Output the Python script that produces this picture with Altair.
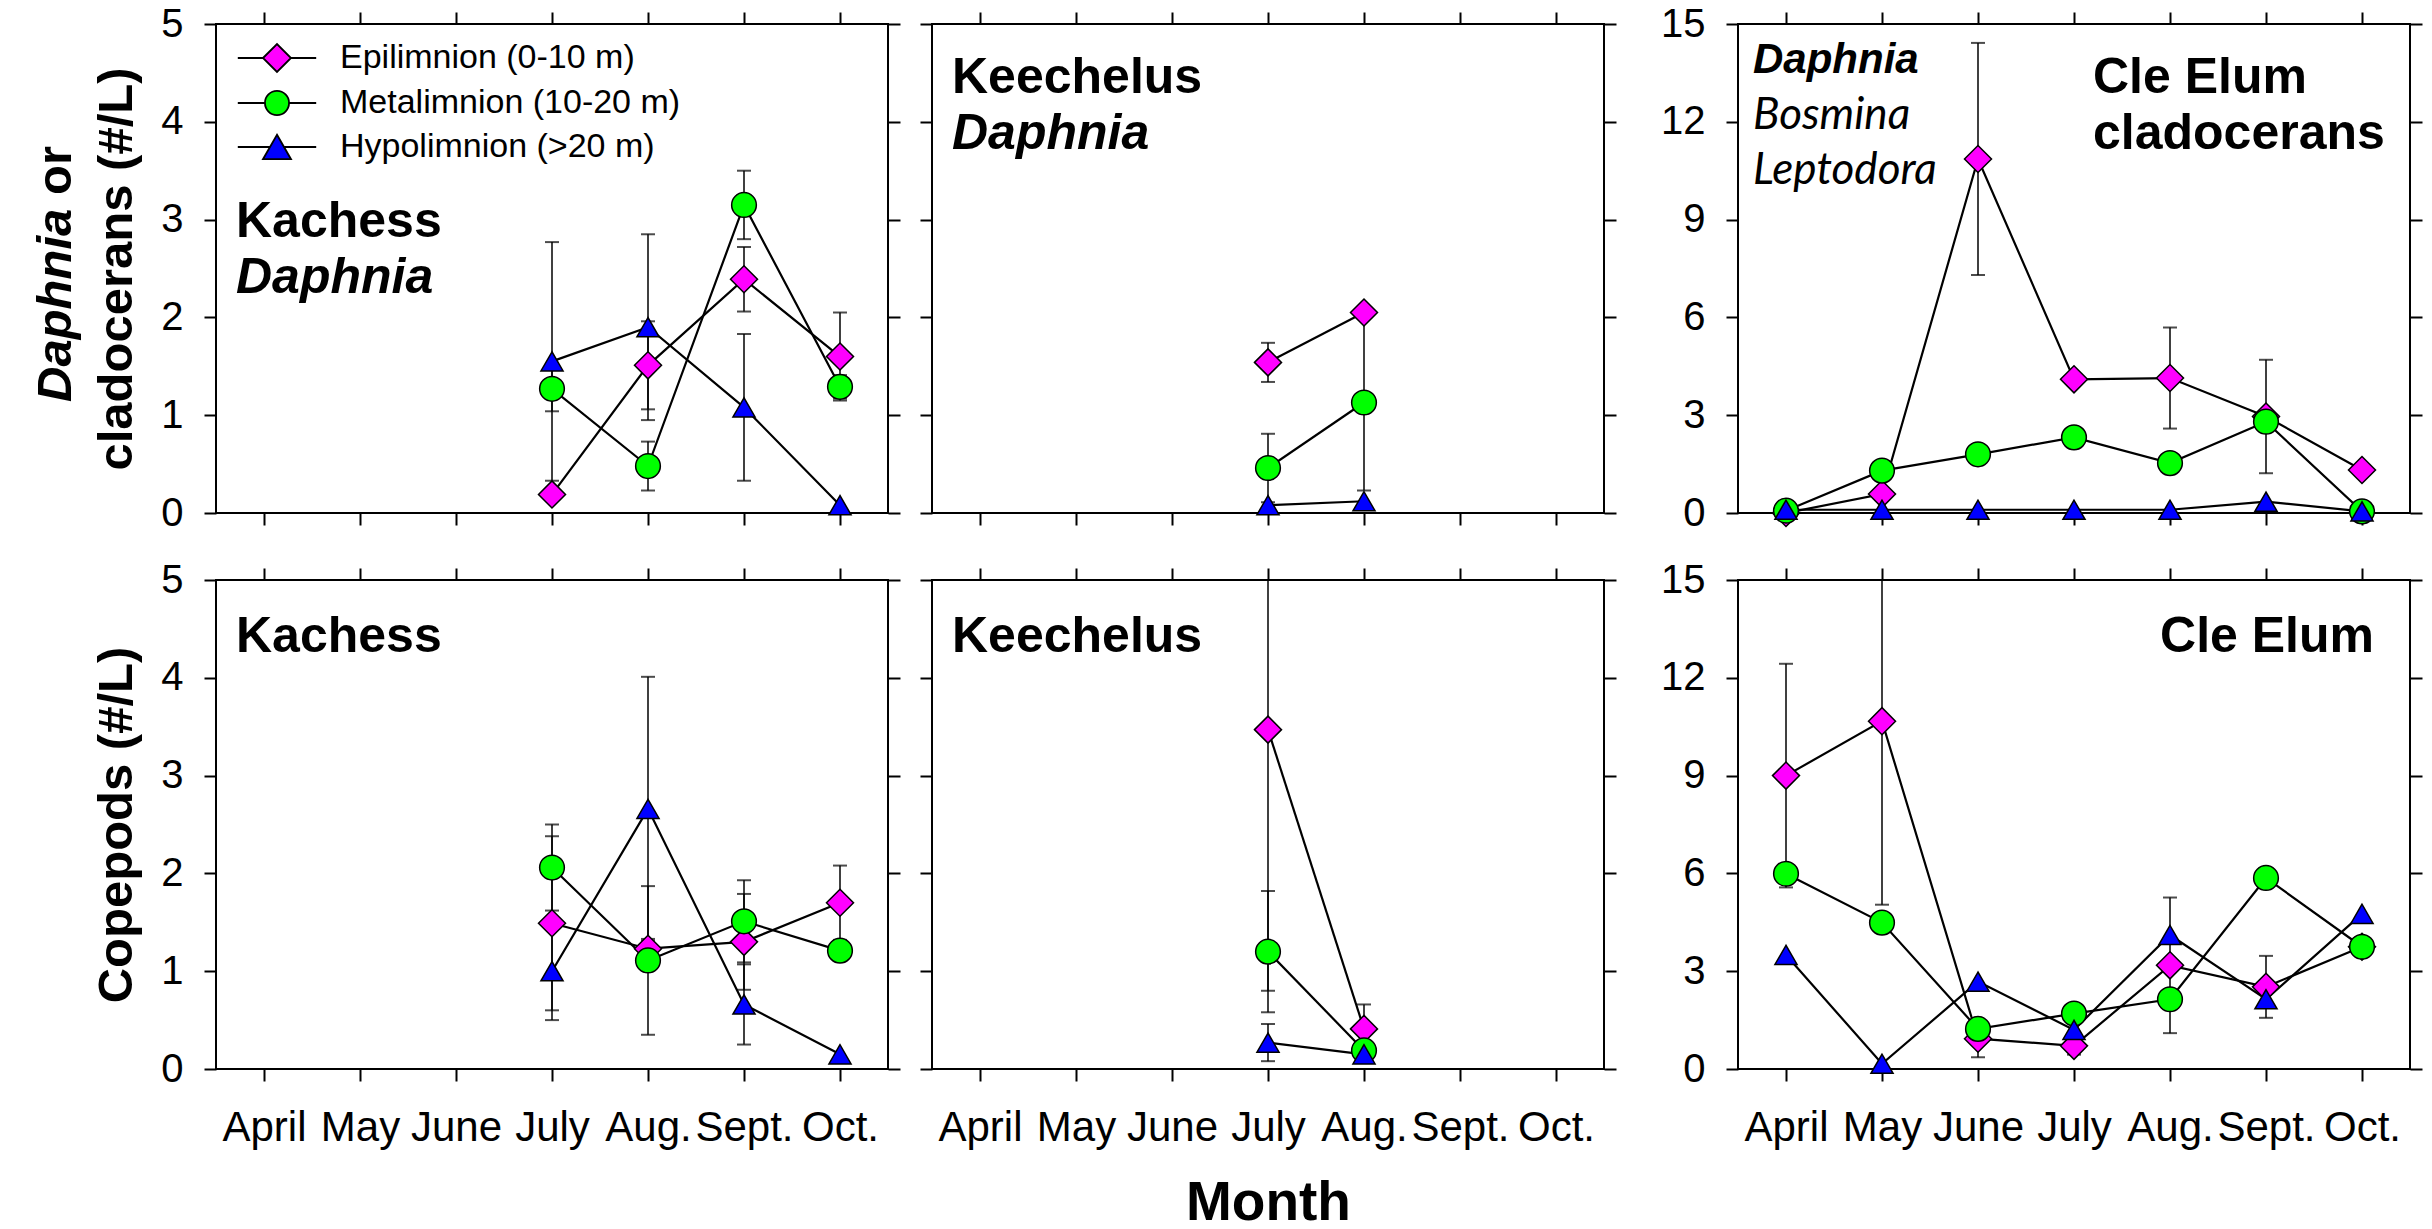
import altair as alt
import pandas as pd

# ---------------- data ----------------
MONTHS = ["April", "May", "June", "July", "Aug.", "Sept.", "Oct."]
DEPTHS = ["Epilimnion (0-10 m)", "Metalimnion (10-20 m)", "Hypolimnion (>20 m)"]
COLORS = ["#FF00FF", "#00FF00", "#0000FF"]
SHAPES = ["diamond", "circle", "triangle-up"]

# Kachess - Daphnia
kd_months = ["July", "Aug.", "Sept.", "Oct."]
kd_epi = [0.19, 1.51, 2.39, 1.60]
kd_epi_se = [0.0, 0.45, 0.33, 0.45]
kd_meta = [1.27, 0.48, 3.15, 1.29]
kd_meta_se = [0.23, 0.25, 0.35, 0.12]
kd_hypo = [1.55, 1.90, 1.08, 0.08]
kd_hypo_se = [1.22, 0.95, 0.75, 0.0]

# Keechelus - Daphnia
ked_months = ["July", "Aug."]
ked_epi = [1.54, 2.05]
ked_epi_se = [0.20, 0.0]
ked_meta = [0.46, 1.13]
ked_meta_se = [0.35, 0.90]
ked_hypo = [0.08, 0.12]
ked_hypo_se = [0.0, 0.0]

# Cle Elum - cladocerans
cec_months = ["April", "May", "June", "July", "Aug.", "Sept.", "Oct."]
cec_epi = [0.0, 0.58, 10.86, 4.10, 4.14, 2.96, 1.32]
cec_epi_se = [0.0, 0.0, 3.56, 0.0, 1.55, 1.74, 0.0]
cec_meta = [0.07, 1.30, 1.80, 2.32, 1.53, 2.80, 0.05]
cec_meta_se = [0.0, 0.0, 0.0, 0.0, 0.0, 0.0, 0.0]
cec_hypo = [0.10, 0.10, 0.10, 0.10, 0.10, 0.35, 0.05]
cec_hypo_se = [0.0, 0.0, 0.0, 0.0, 0.0, 0.0, 0.0]

# Kachess - copepods
kc_months = ["July", "Aug.", "Sept.", "Oct."]
kc_epi = [1.49, 1.23, 1.30, 1.70]
kc_epi_se = [0.89, 0.10, 0.49, 0.38]
kc_meta = [2.06, 1.11, 1.51, 1.21]
kc_meta_se = [0.44, 0.76, 0.42, 0.0]
kc_hypo = [1.00, 2.66, 0.66, 0.15]
kc_hypo_se = [0.50, 1.35, 0.41, 0.0]

# Keechelus - copepods
kec_months = ["July", "Aug."]
kec_epi = [3.47, 0.41]
kec_epi_se = [2.67, 0.25]
kec_meta = [1.20, 0.19]
kec_meta_se = [0.62, 0.0]
kec_hypo = [0.27, 0.15]
kec_hypo_se = [0.19, 0.0]

# Cle Elum - copepods
cep_months = ["April", "May", "June", "July", "Aug.", "Sept.", "Oct."]
cep_epi = [9.00, 10.67, 0.93, 0.71, 3.18, 2.52, 3.75]
cep_epi_se = [3.43, 5.63, 0.57, 0.27, 2.08, 0.95, 0.30]
cep_meta = [5.99, 4.49, 1.23, 1.70, 2.14, 5.86, 3.75]
cep_meta_se = [0.30, 0.0, 0.0, 0.0, 0.0, 0.0, 0.0]
cep_hypo = [3.50, 0.16, 2.68, 1.20, 4.11, 2.14, 4.76]
cep_hypo_se = [0.0, 0.0, 0.0, 0.0, 0.0, 0.0, 0.0]

# legend symbols: marker with a line through it
LEGEND_PATHS = [
    "M-2.8,0L-1,0M1,0L2.8,0M-1,0L0,-1L1,0L0,1Z",
    "M-2.8,0L-0.86,0M0.86,0L2.8,0M0.86,0A0.86,0.86,0,1,1,-0.86,0A0.86,0.86,0,1,1,0.86,0Z",
    "M-2.8,0L-0.5,0M0.5,0L2.8,0M0,-0.87L1,0.87L-1,0.87Z",
]
SIZES = [730, 490, 784]

FONT = "Liberation Sans"
NARROW = "Liberation Sans Narrow, Liberation Sans"
W, H = 672, 489


def make_df(months, series, ses):
    rows = []
    for depth, vals, errs in zip(DEPTHS, series, ses):
        for m, v, s in zip(months, vals, errs):
            rows.append({"mi": MONTHS.index(m), "depth": depth, "val": v,
                         "se": s, "lo": v - s, "hi": v + s})
    return pd.DataFrame(rows)


df_kd = make_df(kd_months, [kd_epi, kd_meta, kd_hypo], [kd_epi_se, kd_meta_se, kd_hypo_se])
df_ked = make_df(ked_months, [ked_epi, ked_meta, ked_hypo], [ked_epi_se, ked_meta_se, ked_hypo_se])
df_cec = make_df(cec_months, [cec_epi, cec_meta, cec_hypo], [cec_epi_se, cec_meta_se, cec_hypo_se])
df_kc = make_df(kc_months, [kc_epi, kc_meta, kc_hypo], [kc_epi_se, kc_meta_se, kc_hypo_se])
df_kec = make_df(kec_months, [kec_epi, kec_meta, kec_hypo], [kec_epi_se, kec_meta_se, kec_hypo_se])
df_cep = make_df(cep_months, [cep_epi, cep_meta, cep_hypo], [cep_epi_se, cep_meta_se, cep_hypo_se])

MONTH_EXPR = "[" + ",".join("'" + m + "'" for m in MONTHS) + "][datum.value]"
X_SCALE = alt.Scale(domain=[-0.5, 6.5], nice=False, zero=False)
TICK = dict(ticks=True, tickSize=12, tickWidth=2, tickColor="black", domain=False, grid=False)


def text_layer(t):
    kw = dict(align=t.get("align", "left"), baseline=t.get("baseline", "alphabetic"),
              fontSize=t["size"], font=t.get("font", FONT), color="black",
              fontWeight=t.get("weight", "bold"), fontStyle=t.get("style", "normal"))
    if "angle" in t:
        kw["angle"] = t["angle"]
    return alt.Chart(pd.DataFrame({"t": [t["text"]]})).mark_text(**kw).encode(
        text="t:N", x=alt.value(t["x"]), y=alt.value(t["y"]))


def make_panel(df, ymax, ystep, ylabels, left_ext, xlabels, xtitle, texts, legend=False):
    ys = alt.Scale(domain=[0, ymax], nice=False, zero=False)
    yvals = list(range(0, ymax + 1, ystep))
    xb = dict(orient="bottom", values=list(range(7)), labels=xlabels, **TICK)
    if xlabels:
        xb.update(labelExpr=MONTH_EXPR, labelFont=NARROW, labelFontSize=42, labelColor="black",
                  labelPadding=26, labelOverlap=False, labelFlush=False)
    else:
        xb.update(minExtent=12, maxExtent=12)
    if xtitle:
        xb.update(title=xtitle, titleFont=FONT, titleFontSize=55, titleFontWeight="bold",
                  titleColor="black", titlePadding=28)
    else:
        xb["title"] = None
    yl = dict(orient="left", values=yvals, labels=ylabels, minExtent=left_ext,
              maxExtent=left_ext, title=None, **TICK)
    if ylabels:
        yl.update(labelFont=FONT, labelFontSize=40, labelColor="black", labelPadding=21,
                  labelOverlap=False, labelFlush=False)
    xt = dict(orient="top", values=list(range(7)), labels=False, minExtent=12, maxExtent=12,
              title=None, **TICK)
    yr = dict(orient="right", values=yvals, labels=False, minExtent=12, maxExtent=12,
              title=None, **TICK)

    base = alt.Chart(df)
    rules = base.mark_rule(color="black", strokeWidth=1.5, clip=True).encode(
        x=alt.X("mi:Q", scale=X_SCALE, axis=alt.Axis(**xb)),
        y=alt.Y("lo:Q", scale=ys, axis=alt.Axis(**yl)),
        y2="hi:Q")
    caps_lo = base.transform_filter("datum.se > 0").mark_tick(
        orient="horizontal", size=14, thickness=2, color="black", clip=True).encode(
        x=alt.X("mi:Q", scale=X_SCALE, axis=None),
        y=alt.Y("lo:Q", scale=ys, axis=None))
    caps_hi = base.transform_filter("datum.se > 0").mark_tick(
        orient="horizontal", size=14, thickness=2, color="black", clip=True).encode(
        x=alt.X("mi:Q", scale=X_SCALE, axis=None),
        y=alt.Y("hi:Q", scale=ys, axis=None))
    lines = base.mark_line(color="black", strokeWidth=2.2, clip=True).encode(
        x=alt.X("mi:Q", scale=X_SCALE, axis=alt.Axis(**xt)),
        y=alt.Y("val:Q", scale=ys, axis=alt.Axis(**yr)),
        detail="depth:N", order="mi:Q")
    points = base.mark_point(filled=True, stroke="black", strokeWidth=1.5, opacity=1).encode(
        x=alt.X("mi:Q", scale=X_SCALE, axis=None),
        y=alt.Y("val:Q", scale=ys, axis=None),
        fill=alt.Fill("depth:N", scale=alt.Scale(domain=DEPTHS, range=COLORS), legend=None),
        shape=alt.Shape("depth:N", scale=alt.Scale(domain=DEPTHS, range=SHAPES), legend=None),
        size=alt.Size("depth:N", scale=alt.Scale(domain=DEPTHS, range=SIZES), legend=None))
    layers = [rules, caps_lo, caps_hi, lines, points] + [text_layer(t) for t in texts]
    if legend:
        leg = alt.Legend(orient="none", legendX=44, legendY=17, title=None, labelFont=FONT,
                         labelFontSize=34, labelColor="black", labelLimit=700, labelOffset=46,
                         symbolSize=784, symbolStrokeWidth=1.8,
                         symbolOpacity=1, rowPadding=10, padding=0, direction="vertical")
        leg_layer = base.mark_point(filled=True, opacity=0, stroke="black", strokeWidth=1.8).encode(
            x=alt.X("mi:Q", scale=X_SCALE, axis=None),
            y=alt.Y("val:Q", scale=ys, axis=None),
            fill=alt.Fill("depth:N", scale=alt.Scale(domain=DEPTHS, range=COLORS), legend=leg),
            shape=alt.Shape("depth:N", scale=alt.Scale(domain=DEPTHS, range=LEGEND_PATHS), legend=leg))
        layers.append(leg_layer)
    ch = alt.layer(*layers).resolve_axis(x="independent", y="independent")
    if legend:
        ch = ch.resolve_scale(shape="independent", fill="independent")
    return ch.properties(width=W, height=H)


p1t = make_panel(df_kd, 5, 1, True, 190, False, None, [
    dict(text="Kachess", x=20, y=213, size=50),
    dict(text="Daphnia", x=20, y=269, size=50, style="italic"),
    dict(text="Daphnia", x=-160, y=378, size=49, style="italic", angle=270, baseline="middle"),
    dict(text="or", x=-160, y=171, size=49, angle=270, baseline="middle"),
    dict(text="cladocerans (#/L)", x=-99, y=245, size=49, angle=270, align="center", baseline="middle"),
], legend=True)
p2t = make_panel(df_ked, 5, 1, False, 12, False, None, [
    dict(text="Keechelus", x=20, y=69, size=50),
    dict(text="Daphnia", x=20, y=125, size=50, style="italic"),
])
p3t = make_panel(df_cec, 15, 3, True, 103, False, None, [
    dict(text="Daphnia", x=15, y=49, size=42, style="italic"),
    dict(text="Bosmina", x=15, y=105, size=44, style="italic", weight="normal", font="Lato"),
    dict(text="Leptodora", x=15, y=160, size=44, style="italic", weight="normal", font="Lato"),
    dict(text="Cle Elum", x=355, y=69, size=50),
    dict(text="cladocerans", x=355, y=125, size=50),
])
p1b = make_panel(df_kc, 5, 1, True, 190, True, None, [
    dict(text="Kachess", x=20, y=72, size=50),
    dict(text="Copepods (#/L)", x=-99, y=245, size=49, angle=270, align="center", baseline="middle"),
])
p2b = make_panel(df_kec, 5, 1, False, 12, True, "Month", [
    dict(text="Keechelus", x=20, y=72, size=50),
])
p3b = make_panel(df_cep, 15, 3, True, 103, True, None, [
    dict(text="Cle Elum", x=636, y=72, size=50, align="right"),
])

chart = alt.concat(
    p1t, p2t, p3t, p1b, p2b, p3b,
    columns=3, spacing={"row": 25, "column": 16}, align="each",
).configure(font=FONT).configure_view(stroke="black", strokeWidth=2).properties(
    padding={"left": 25, "top": 3, "right": 5, "bottom": 5}, background="white")

chart.save("out.html", embed_options={"renderer": "svg", "actions": False})
